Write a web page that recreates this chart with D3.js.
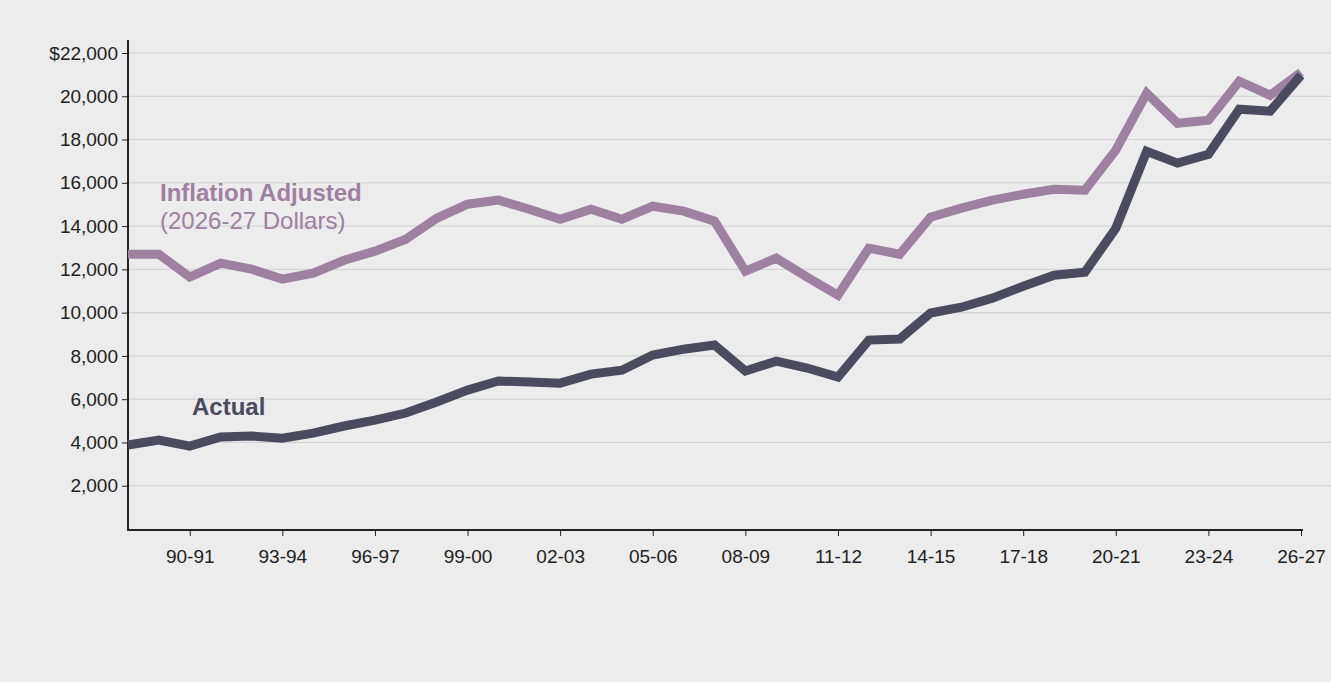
<!DOCTYPE html>
<html><head><meta charset="utf-8">
<script src="https://cdn.jsdelivr.net/npm/d3@7"></script>
<style>body{margin:0;background:#ebeceb;font-family:"Liberation Sans",Arial,sans-serif;}</style>
</head><body><svg id="c" width="1331" height="682"></svg>
<script>
var years = ["88-89","89-90","90-91","91-92","92-93","93-94","94-95","95-96","96-97","97-98","98-99","99-00","00-01","01-02","02-03","03-04","04-05","05-06","06-07","07-08","08-09","09-10","10-11","11-12","12-13","13-14","14-15","15-16","16-17","17-18","18-19","19-20","20-21","21-22","22-23","23-24","24-25","25-26","26-27"];
var actual = [3880,4110,3830,4250,4300,4200,4430,4760,5030,5360,5870,6420,6840,6790,6740,7160,7340,8040,8310,8500,7300,7760,7440,7020,8730,8780,9980,10250,10670,11220,11730,11870,13900,17460,16910,17320,19400,19310,20970];
var adjusted = [12700,12700,11640,12290,12010,11550,11820,12420,12840,13390,14360,15010,15200,14780,14320,14780,14320,14920,14690,14230,11920,12520,11640,10810,12980,12700,14410,14830,15200,15470,15700,15660,17510,20140,18750,18890,20690,20050,21110];
var yTicks = [2000,4000,6000,8000,10000,12000,14000,16000,18000,20000,22000];
var xLabels = ["90-91","93-94","96-97","99-00","02-03","05-06","08-09","11-12","14-15","17-18","20-21","23-24","26-27"];

var svg = d3.select("#c");
var x = d3.scalePoint().domain(years).range([128, 1301]);
var y = d3.scaleLinear().domain([0, 22000]).range([529, 53]);

svg.append("g").selectAll("line").data(yTicks).join("line")
  .attr("x1", 128).attr("x2", 1331).attr("y1", d => y(d)).attr("y2", d => y(d))
  .attr("stroke", "#cfd0d0").attr("stroke-width", 1);

var ya = svg.append("g").attr("transform", "translate(128,0)")
  .call(d3.axisLeft(y).tickValues(yTicks).tickSize(6).tickPadding(4)
    .tickFormat(d => (d === 22000 ? "$" : "") + d3.format(",")(d)));
ya.select(".domain").remove();
ya.selectAll("line").attr("stroke", "#222");
ya.selectAll("text").attr("font-size", 19).attr("fill", "#222").attr("font-family", "Liberation Sans,Arial");

svg.append("line").attr("x1", 128).attr("x2", 128).attr("y1", 40).attr("y2", 530).attr("stroke", "#222").attr("stroke-width", 2);
svg.append("line").attr("x1", 127).attr("x2", 1303).attr("y1", 530).attr("y2", 530).attr("stroke", "#222").attr("stroke-width", 2);

var xa = svg.append("g").attr("transform", "translate(0,530)")
  .call(d3.axisBottom(x).tickValues(xLabels).tickSize(6).tickPadding(14));
xa.select(".domain").remove();
xa.selectAll("line").attr("stroke", "#222");
xa.selectAll("text").attr("font-size", 19).attr("fill", "#222").attr("font-family", "Liberation Sans,Arial");

var line = d3.line().x((d, i) => x(years[i])).y(d => y(d));
svg.append("path").datum(adjusted).attr("d", line).attr("fill", "none")
  .attr("stroke", "#9e80a1").attr("stroke-width", 9).attr("stroke-linejoin", "miter");
svg.append("path").datum(actual).attr("d", line).attr("fill", "none")
  .attr("stroke", "#4b4a5f").attr("stroke-width", 9).attr("stroke-linejoin", "miter");

svg.append("text").attr("x", 160).attr("y", 201).attr("font-size", 24).attr("font-weight", "bold")
  .attr("fill", "#9e80a1").text("Inflation Adjusted");
svg.append("text").attr("x", 160).attr("y", 229).attr("font-size", 24)
  .attr("fill", "#9e80a1").text("(2026-27 Dollars)");
svg.append("text").attr("x", 192).attr("y", 415).attr("font-size", 24).attr("font-weight", "bold")
  .attr("fill", "#4b4a5f").text("Actual");
</script></body></html>
